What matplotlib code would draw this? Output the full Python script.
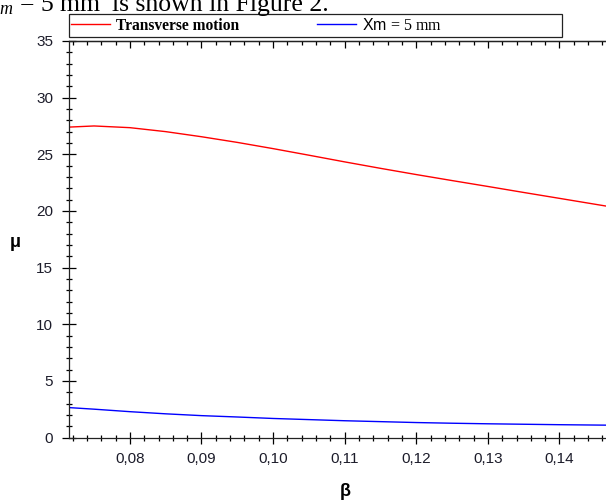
import matplotlib
matplotlib.use("Agg")
import matplotlib.pyplot as plt
from matplotlib.ticker import MultipleLocator, FuncFormatter
from matplotlib.patches import Rectangle

plt.rcParams['font.family'] = 'Liberation Sans'
plt.rcParams['mathtext.fontset'] = 'custom'
plt.rcParams['mathtext.rm'] = 'Liberation Serif'
plt.rcParams['mathtext.it'] = 'Liberation Serif:italic'
plt.rcParams['mathtext.sf'] = 'Liberation Sans'

# data
beta = [0.0715, 0.075, 0.08, 0.085, 0.09, 0.095, 0.10, 0.105, 0.11,
        0.115, 0.12, 0.125, 0.13, 0.135, 0.14, 0.1465]
mu_transverse = [27.4, 27.5, 27.35, 27.0, 26.55, 26.05, 25.5, 24.92, 24.33,
                 23.76, 23.21, 22.68, 22.16, 21.63, 21.11, 20.43]
mu_xm5 = [2.64, 2.5, 2.28, 2.09, 1.93, 1.81, 1.68, 1.58, 1.48,
          1.40, 1.32, 1.26, 1.21, 1.17, 1.13, 1.09]
labels = ["Transverse motion", r"$\mathsf{Xm}$ = 5 mm"]
yticks = [0, 5, 10, 15, 20, 25, 30, 35]
xticks = [0.08, 0.09, 0.10, 0.11, 0.12, 0.13, 0.14]

W, H = 606, 501
fig = plt.figure(figsize=(W / 100, H / 100), dpi=100)
ax = fig.add_axes([69 / W, 1 - 437.5 / H, 1 - 69 / W, (437.5 - 41) / H])

l1, = ax.plot(beta, mu_transverse, color='#ff0000', lw=1.0)
l2, = ax.plot(beta, mu_xm5, color='#0000ff', lw=1.0)

ax.set_xlim(0.0715, 0.1465)
ax.set_ylim(0, 35)
ax.set_xticks(xticks)
ax.set_yticks(yticks)
ax.xaxis.set_minor_locator(MultipleLocator(0.002))
ax.yaxis.set_minor_locator(MultipleLocator(1))
ax.xaxis.set_major_formatter(FuncFormatter(lambda v, p: f"{v:.2f}".replace('.', ',')))

ax.spines['right'].set_visible(False)
for s in ['left', 'bottom', 'top']:
    ax.spines[s].set_linewidth(0.9)
    ax.spines[s].set_color('#222222')

ax.tick_params(axis='y', which='major', direction='inout', length=9.4, width=0.9,
               pad=6.8, labelsize=11, labelcolor='#1c1c2a')
ax.tick_params(axis='y', which='minor', direction='inout', length=4.3, width=0.9)
ax.tick_params(axis='x', which='major', direction='inout', length=8.6, width=0.9,
               pad=5.9, labelsize=11, labelcolor='#1c1c2a')
ax.tick_params(axis='x', which='minor', direction='inout', length=5.0, width=0.9)

top = ax.secondary_xaxis('top')
top.set_xticks(xticks)
top.xaxis.set_minor_locator(MultipleLocator(0.002))
top.tick_params(which='major', direction='in', length=5, width=0.9, labeltop=False)
top.tick_params(which='minor', direction='in', length=3, width=0.9)
top.spines['top'].set_linewidth(0.9)

ax.set_ylabel("μ", rotation=0, fontsize=13, fontweight='bold', va='center', ha='center')
ax.yaxis.set_label_coords(-54 / 537, (437.5 - 243) / 396.5)
ax.set_xlabel("β", fontsize=13, fontweight='bold', va='center', ha='center')
ax.xaxis.set_label_coords((345 - 69) / 537, -(492 - 437.5) / 396.5)

# legend box above the plot
fig.patches.append(Rectangle((69 / W, 1 - 37 / H), (562 - 69) / W, 23 / H,
                             transform=fig.transFigure, fill=False,
                             edgecolor='#222222', lw=0.9))
leg = fig.legend([l1, l2], labels, loc='center left', bbox_to_anchor=(71 / W, 1 - 25.5 / H),
                 ncol=2, frameon=False, borderpad=0, borderaxespad=0,
                 handlelength=2.5, handletextpad=0.4, columnspacing=5.0,
                 prop={'family': 'Liberation Serif', 'weight': 'bold', 'size': 11.2})
leg.get_texts()[1].set_fontweight('normal')
leg.get_texts()[1].set_fontsize(11.5)

# caption fragment cut at the top of the image
fig.text(102 / W, 1 - 11 / H, r"$X_m$ = 5 mm", ha='right', va='baseline',
         fontsize=18.5, family='Liberation Serif')
fig.text(112 / W, 1 - 11 / H, "is shown in Figure 2.", ha='left', va='baseline',
         fontsize=18.5, family='Liberation Serif')

fig.savefig("out.png", dpi=100)
